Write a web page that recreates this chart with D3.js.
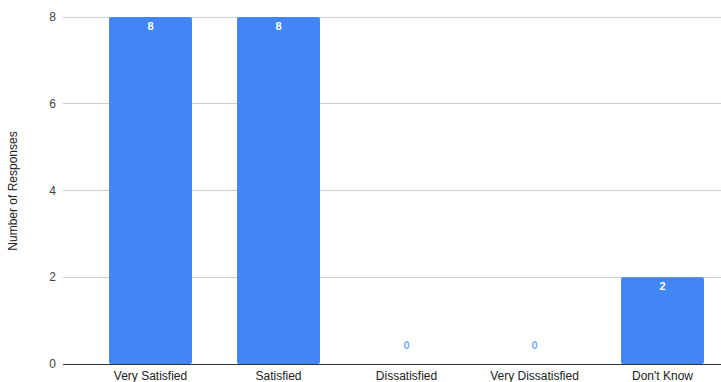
<!DOCTYPE html>
<html><head><meta charset="utf-8">
<script src="https://cdn.jsdelivr.net/npm/d3@7"></script>
<style>body{margin:0;background:#fff;}svg{display:block;font-family:"Liberation Sans", Arial, sans-serif;}</style>
</head><body>
<svg id="c" width="721" height="382"></svg>
<script>
const categories = ["Very Satisfied","Satisfied","Dissatisfied","Very Dissatisfied","Don't Know"];
const values = [8,8,0,0,2];
const yTicks = [0,2,4,6,8];

(function(){
const svg = d3.select("#c");
const mLeft = 63, mRight = 721, mTop = 17, mBottom = 364;
const x = d3.scaleBand().domain(categories).range([86.5, 726.5]).paddingInner(0.352).paddingOuter(0.176);
const y = d3.scaleLinear().domain([0,8]).range([mBottom, mTop]);

svg.append("g").selectAll("line").data(yTicks.filter(d=>d!==0)).join("line")
  .attr("x1", mLeft).attr("x2", mRight).attr("y1", d=>y(d)).attr("y2", d=>y(d))
  .attr("stroke", "#cccccc").attr("stroke-width", 1).attr("shape-rendering","crispEdges");

svg.append("g").selectAll("text").data(yTicks).join("text")
  .attr("x", 56).attr("y", d=>y(d)).attr("dy","0.35em").attr("text-anchor","end")
  .attr("font-size", 12).attr("fill", "#444").text(d=>d);

const rows = values.map((v,i)=>({c:categories[i],v}));
svg.append("g").selectAll("rect").data(rows).join("rect")
  .attr("x", d=>x(d.c)).attr("width", x.bandwidth())
  .attr("y", d=>y(d.v)).attr("height", d=>y(0)-y(d.v))
  .attr("rx", 2).attr("fill", "#4285f4");

svg.append("g").selectAll("text").data(rows).join("text")
  .attr("x", d=>x(d.c)+x.bandwidth()/2)
  .attr("y", d=> d.v>0 ? y(d.v)+13 : y(0)-15)
  .attr("text-anchor","middle").attr("font-size", 11).attr("font-weight","bold")
  .attr("fill", d=> d.v>0 ? "#ffffff" : "#7baaf7").text(d=>d.v);

svg.append("line").attr("x1", mLeft).attr("x2", mRight).attr("y1", y(0)).attr("y2", y(0))
  .attr("stroke", "#333").attr("stroke-width", 1).attr("shape-rendering","crispEdges");

svg.append("g").selectAll("text").data(categories).join("text")
  .attr("x", d=>x(d)+x.bandwidth()/2).attr("y", 380)
  .attr("text-anchor","middle").attr("font-size", 12).attr("fill","#222").text(d=>d);

svg.append("text").attr("transform","translate(17,191) rotate(-90)")
  .attr("text-anchor","middle").attr("font-size", 12).attr("fill","#222").text("Number of Responses");
})();
</script>
</body></html>
